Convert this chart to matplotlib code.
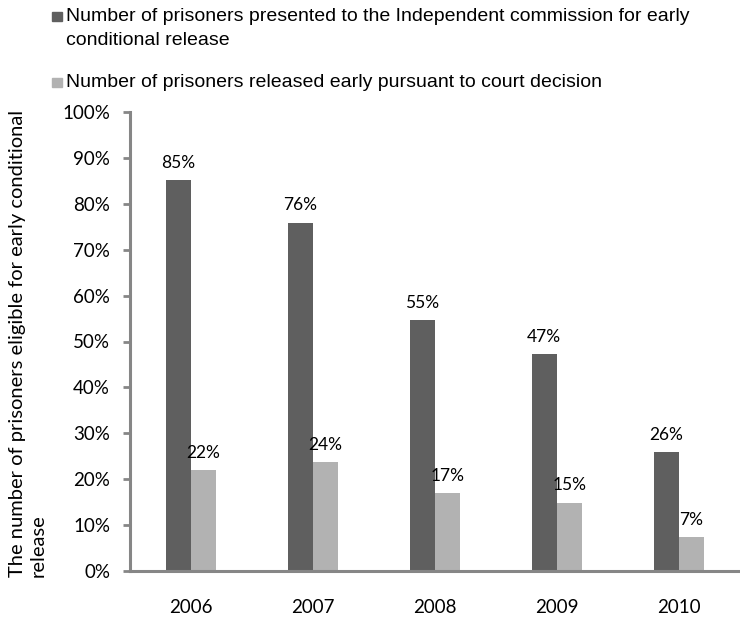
import numpy as np
import matplotlib
matplotlib.use("Agg")
import matplotlib.pyplot as plt
from matplotlib.patches import Rectangle

years = ['2006', '2007', '2008', '2009', '2010']
presented = [85.1, 75.9, 54.6, 47.2, 25.9]
released = [21.9, 23.7, 16.9, 14.9, 7.3]
labels = ['Number of prisoners presented to the Independent commission for early\nconditional release',
          'Number of prisoners released early pursuant to court decision']
colors = ['#5f5f5f', '#b2b2b2']

plt.rcParams['font.family'] = ['Lato', 'DejaVu Sans']

W, H = 740, 617
fig = plt.figure(figsize=(W / 100, H / 100), dpi=100)
ax = fig.add_axes([129.5 / W, 1 - 571 / H, 1 - 129.5 / W, 459 / H])

x = np.arange(len(years))
w = 0.205
b1 = ax.bar(x - w / 2, presented, w, color=colors[0])
b2 = ax.bar(x + w / 2, released, w, color=colors[1])

# подписи значений над столбцами
for bars, vals in ((b1, presented), (b2, released)):
    for r, v in zip(bars, vals):
        ax.text(r.get_x() + r.get_width() / 2, v + 2.0, f'{round(v)}%',
                ha='center', va='bottom', fontsize=12.5)

ax.set_xlim(-0.5, 4.5)
ax.set_ylim(0, 100)
ax.set_yticks(np.arange(0, 101, 10))
ax.set_yticklabels([f'{t}%' for t in range(0, 101, 10)], fontsize=13.5)
ax.set_xticks(x)
ax.set_xticklabels(years, fontsize=13.5)
ax.tick_params(axis='x', length=0, pad=20)
ax.tick_params(axis='y', length=5, width=2, color='#868686', pad=9)
for s in ['top', 'right']:
    ax.spines[s].set_visible(False)
for s in ['left', 'bottom']:
    ax.spines[s].set_color('#868686')
    ax.spines[s].set_linewidth(2.2)

fig.text(9 / W, 1 - 577 / H, 'The number of prisoners eligible for early conditional\nrelease',
         rotation=90, ha='left', va='bottom', multialignment='left', fontsize=14.5,
         linespacing=1.25)

# легенда вручную: квадрат на уровне первой строки
for lab, c, base in zip(labels, colors, [21, 87]):
    fig.add_artist(Rectangle((52 / W, 1 - base / H), 9.5 / W, 9.5 / H,
                             transform=fig.transFigure, color=c))
    lines = lab.split('\n')
    for k, line in enumerate(lines):
        fig.text(66 / W, 1 - (base + 24 * k) / H, line, ha='left', va='baseline',
                 fontsize=14, family='Liberation Sans')

fig.savefig('out.png', dpi=100)
